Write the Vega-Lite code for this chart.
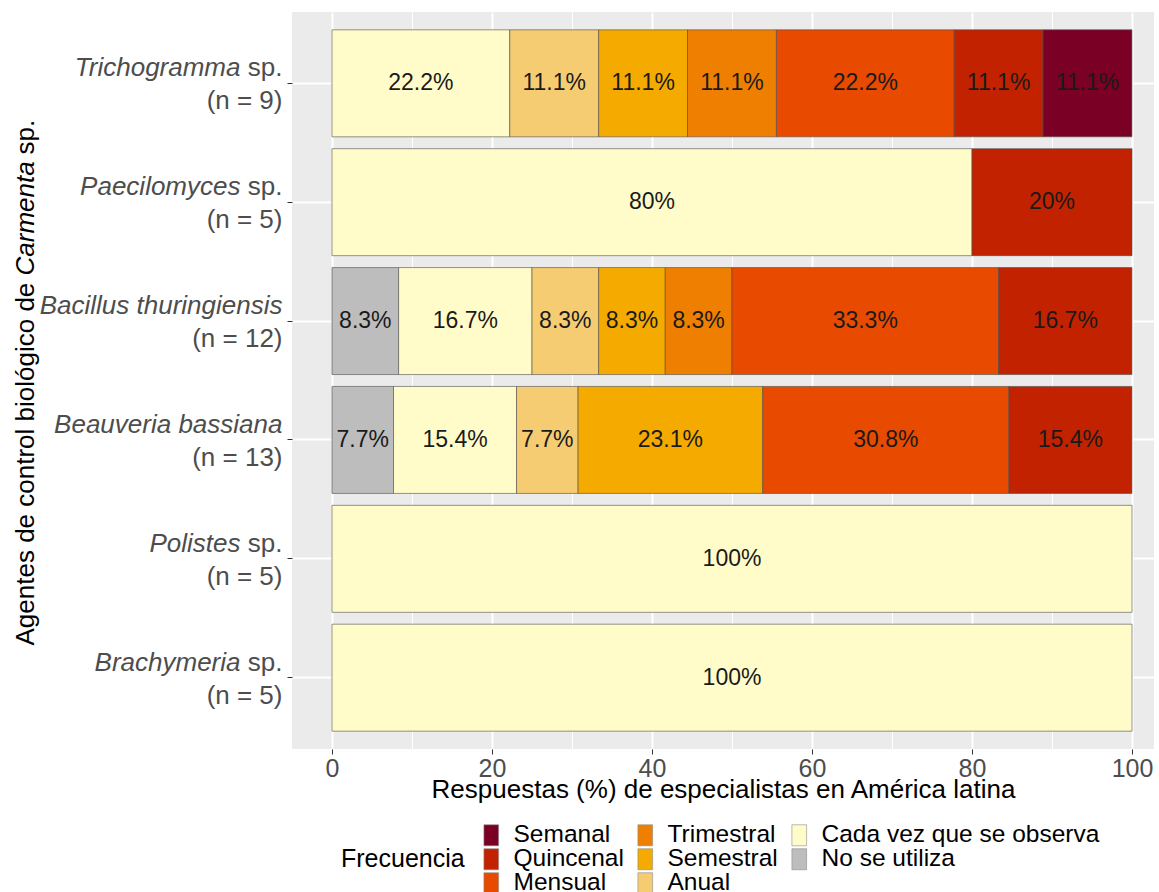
{
  "$schema": "https://vega.github.io/schema/vega-lite/v6.json",
  "width": 862,
  "height": 737,
  "autosize": {"type": "none"},
  "padding": {"left": 292, "top": 12, "right": 5, "bottom": 143},
  "background": "white",
  "config": {
    "font": "Liberation Sans",
    "view": {"fill": "#EBEBEB", "stroke": null}
  },
  "data": {
    "values": [
      {"agente": "Trichogramma sp. (n = 9)", "frecuencia": "Cada vez que se observa", "pct": 22.22, "lab": "22.2%", "orden": 2},
      {"agente": "Trichogramma sp. (n = 9)", "frecuencia": "Anual", "pct": 11.11, "lab": "11.1%", "orden": 3},
      {"agente": "Trichogramma sp. (n = 9)", "frecuencia": "Semestral", "pct": 11.11, "lab": "11.1%", "orden": 4},
      {"agente": "Trichogramma sp. (n = 9)", "frecuencia": "Trimestral", "pct": 11.11, "lab": "11.1%", "orden": 5},
      {"agente": "Trichogramma sp. (n = 9)", "frecuencia": "Mensual", "pct": 22.22, "lab": "22.2%", "orden": 6},
      {"agente": "Trichogramma sp. (n = 9)", "frecuencia": "Quincenal", "pct": 11.11, "lab": "11.1%", "orden": 7},
      {"agente": "Trichogramma sp. (n = 9)", "frecuencia": "Semanal", "pct": 11.11, "lab": "11.1%", "orden": 8},
      {"agente": "Paecilomyces sp. (n = 5)", "frecuencia": "Cada vez que se observa", "pct": 80, "lab": "80%", "orden": 2},
      {"agente": "Paecilomyces sp. (n = 5)", "frecuencia": "Quincenal", "pct": 20, "lab": "20%", "orden": 7},
      {"agente": "Bacillus thuringiensis (n = 12)", "frecuencia": "No se utiliza", "pct": 8.33, "lab": "8.3%", "orden": 1},
      {"agente": "Bacillus thuringiensis (n = 12)", "frecuencia": "Cada vez que se observa", "pct": 16.67, "lab": "16.7%", "orden": 2},
      {"agente": "Bacillus thuringiensis (n = 12)", "frecuencia": "Anual", "pct": 8.33, "lab": "8.3%", "orden": 3},
      {"agente": "Bacillus thuringiensis (n = 12)", "frecuencia": "Semestral", "pct": 8.33, "lab": "8.3%", "orden": 4},
      {"agente": "Bacillus thuringiensis (n = 12)", "frecuencia": "Trimestral", "pct": 8.33, "lab": "8.3%", "orden": 5},
      {"agente": "Bacillus thuringiensis (n = 12)", "frecuencia": "Mensual", "pct": 33.33, "lab": "33.3%", "orden": 6},
      {"agente": "Bacillus thuringiensis (n = 12)", "frecuencia": "Quincenal", "pct": 16.67, "lab": "16.7%", "orden": 7},
      {"agente": "Beauveria bassiana\u00a0 (n = 13)", "frecuencia": "No se utiliza", "pct": 7.69, "lab": "7.7%", "orden": 1},
      {"agente": "Beauveria bassiana\u00a0 (n = 13)", "frecuencia": "Cada vez que se observa", "pct": 15.38, "lab": "15.4%", "orden": 2},
      {"agente": "Beauveria bassiana\u00a0 (n = 13)", "frecuencia": "Anual", "pct": 7.69, "lab": "7.7%", "orden": 3},
      {"agente": "Beauveria bassiana\u00a0 (n = 13)", "frecuencia": "Semestral", "pct": 23.08, "lab": "23.1%", "orden": 4},
      {"agente": "Beauveria bassiana\u00a0 (n = 13)", "frecuencia": "Mensual", "pct": 30.77, "lab": "30.8%", "orden": 6},
      {"agente": "Beauveria bassiana\u00a0 (n = 13)", "frecuencia": "Quincenal", "pct": 15.38, "lab": "15.4%", "orden": 7},
      {"agente": "Polistes sp. (n = 5)", "frecuencia": "Cada vez que se observa", "pct": 100, "lab": "100%", "orden": 2},
      {"agente": "Brachymeria sp. (n = 5)", "frecuencia": "Cada vez que se observa", "pct": 100, "lab": "100%", "orden": 2}
    ]
  },
  "resolve": {"axis": {"x": "independent", "y": "independent"}},
  "layer": [
    {
      "mark": {"type": "bar", "stroke": "#4d4d4d", "strokeWidth": 0.6},
      "encoding": {
        "y": {
          "field": "agente", "type": "nominal",
          "sort": ["Trichogramma sp. (n = 9)", "Paecilomyces sp. (n = 5)", "Bacillus thuringiensis (n = 12)", "Beauveria bassiana\u00a0 (n = 13)", "Polistes sp. (n = 5)", "Brachymeria sp. (n = 5)"],
          "scale": {"paddingInner": 0.1, "paddingOuter": 0.15},
          "axis": {
            "orient": "left",
            "domain": false,
            "grid": true, "gridColor": "white", "gridWidth": 2,
            "ticks": true, "tickSize": 5, "tickColor": "#333333", "tickWidth": 1,
            "labelExpr": "[indexof(datum.value, ' sp.') > 0 ? 'sp.' : '', substring(datum.value, indexof(datum.value, '('))]",
            "labelFontSize": 26, "labelColor": "#4D4D4D", "labelPadding": 5, "labelLineHeight": 33, "labelBaseline": "middle", "labelOffset": -15, "labelLimit": 400,
            "title": "Agentes de control biológico de",
            "titleFontSize": 26, "titleFontWeight": "normal", "titleColor": "black",
            "titleAngle": 270, "titleAlign": "left", "titleBaseline": "alphabetic",
            "titleX": -259, "titleY": 633
          }
        },
        "x": {
          "field": "pct", "type": "quantitative", "stack": "zero",
          "scale": {"domain": [-5, 102.75], "nice": false, "zero": false},
          "axis": {
            "values": [0, 20, 40, 60, 80, 100],
            "domain": false,
            "grid": true, "gridColor": "white", "gridWidth": 2,
            "ticks": true, "tickSize": 5, "tickColor": "#333333",
            "labelFontSize": 25, "labelColor": "#4D4D4D", "labelPadding": 2,
            "title": "Respuestas (%) de especialistas en América latina",
            "titleFontSize": 26, "titleFontWeight": "normal", "titleColor": "black",
            "titleBaseline": "alphabetic", "titleY": 48
          }
        },
        "order": {"field": "orden", "type": "quantitative"},
        "color": {
          "field": "frecuencia", "type": "nominal",
          "scale": {
            "domain": ["Semanal", "Quincenal", "Mensual", "Trimestral", "Semestral", "Anual", "Cada vez que se observa", "No se utiliza"],
            "range": ["#7A0025", "#C22200", "#E84A00", "#EF7F00", "#F5AA00", "#F6CC72", "#FFFCCA", "#BDBDBD"]
          },
          "legend": {
            "title": "Frecuencia",
            "values": ["Semanal", "Trimestral", "Cada vez que se observa", "Quincenal", "Semestral", "No se utiliza", "Mensual", "Anual"],
            "orient": "none", "legendX": 49, "legendY": 811,
            "direction": "horizontal", "columns": 3,
            "titleOrient": "left", "titleAnchor": "middle", "titleBaseline": "middle",
            "titleFontSize": 25, "titleFontWeight": "normal", "titleColor": "black", "titlePadding": 14,
            "labelFontSize": 24.5, "labelColor": "black", "labelLimit": 400, "labelOffset": 10,
            "symbolType": "M-0.7,-1H0.7V1H-0.7Z", "symbolSize": 441,
            "symbolStrokeColor": "#8c8c8c", "symbolStrokeWidth": 0.6, "symbolOpacity": 1,
            "columnPadding": 9, "rowPadding": -1
          }
        }
      }
    },
    {
      "transform": [{"filter": "indexof(['Trichogramma sp. (n = 9)', 'Paecilomyces sp. (n = 5)', 'Bacillus thuringiensis (n = 12)'], datum.agente) >= 0"}],
      "mark": {"type": "text", "fontSize": 23, "color": "#1a1a1a", "baseline": "middle"},
      "encoding": {
        "y": {
          "field": "agente", "type": "nominal",
          "sort": ["Trichogramma sp. (n = 9)", "Paecilomyces sp. (n = 5)", "Bacillus thuringiensis (n = 12)", "Beauveria bassiana\u00a0 (n = 13)", "Polistes sp. (n = 5)", "Brachymeria sp. (n = 5)"],
          "axis": {
            "orient": "left",
            "domain": false, "grid": false, "ticks": false, "tickSize": 0,
            "labelExpr": "[indexof(datum.value, ' sp.') > 0 ? substring(datum.value, 0, indexof(datum.value, ' sp.')) : '', '']",
            "labelFontSize": 26, "labelFontStyle": "italic", "labelColor": "#4D4D4D", "labelPadding": 52, "labelLineHeight": 33, "labelBaseline": "middle", "labelOffset": -15, "labelLimit": 400,
            "title": "Carmenta",
            "titleFontSize": 26, "titleFontStyle": "italic", "titleFontWeight": "normal", "titleColor": "black",
            "titleAngle": 270, "titleAlign": "left", "titleBaseline": "alphabetic",
            "titleX": -259, "titleY": 263
          }
        },
        "x": {
          "field": "pct", "type": "quantitative", "stack": "zero", "bandPosition": 0.5,
          "axis": {
            "values": [10, 30, 50, 70, 90],
            "domain": false, "grid": true, "gridColor": "white", "gridWidth": 1,
            "ticks": false, "labels": false, "title": null
          }
        },
        "order": {"field": "orden", "type": "quantitative"},
        "text": {"field": "lab", "type": "nominal"}
      }
    },
    {
      "transform": [{"filter": "indexof(['Trichogramma sp. (n = 9)', 'Paecilomyces sp. (n = 5)', 'Bacillus thuringiensis (n = 12)'], datum.agente) < 0"}],
      "mark": {"type": "text", "fontSize": 23, "color": "#1a1a1a", "baseline": "middle"},
      "encoding": {
        "y": {
          "field": "agente", "type": "nominal",
          "sort": ["Trichogramma sp. (n = 9)", "Paecilomyces sp. (n = 5)", "Bacillus thuringiensis (n = 12)", "Beauveria bassiana\u00a0 (n = 13)", "Polistes sp. (n = 5)", "Brachymeria sp. (n = 5)"],
          "axis": {
            "orient": "left",
            "domain": false, "grid": false, "ticks": false, "tickSize": 0,
            "labelExpr": "[indexof(datum.value, ' sp.') > 0 ? '' : substring(datum.value, 0, indexof(datum.value, ' (')), '']",
            "labelFontSize": 26, "labelFontStyle": "italic", "labelColor": "#4D4D4D", "labelPadding": 10, "labelLineHeight": 33, "labelBaseline": "middle", "labelOffset": -15, "labelLimit": 400,
            "title": "sp.",
            "titleFontSize": 26, "titleFontStyle": "normal", "titleFontWeight": "normal", "titleColor": "black",
            "titleAngle": 270, "titleAlign": "left", "titleBaseline": "alphabetic",
            "titleX": -259, "titleY": 142
          }
        },
        "x": {
          "field": "pct", "type": "quantitative", "stack": "zero", "bandPosition": 0.5,
          "axis": null
        },
        "order": {"field": "orden", "type": "quantitative"},
        "text": {"field": "lab", "type": "nominal"}
      }
    }
  ]
}
